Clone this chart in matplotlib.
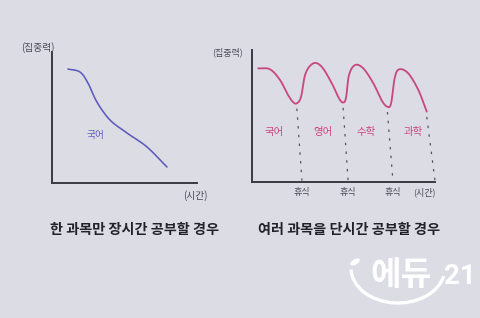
import numpy as np
import matplotlib
matplotlib.use("Agg")
import matplotlib.pyplot as plt
from matplotlib.patches import Arc, Ellipse

plt.rcParams['font.family'] = ['Noto Sans CJK KR', 'DejaVu Sans']

# ---- data ----
left_x = [1.10, 1.93, 2.48, 3.10, 4.00, 5.17, 6.55, 7.93]
left_y = [8.70, 8.47, 7.63, 6.18, 4.81, 3.82, 2.75, 1.22]
left_label = "국어"

right_x = [0.34, 0.98, 1.53, 1.97, 2.25, 2.45, 2.68, 2.92, 3.35, 3.81, 4.36, 4.75, 4.98, 5.14,
           5.30, 5.63, 6.08, 6.63, 7.10, 7.40, 7.60, 7.80, 8.05, 8.54, 9.09, 9.55]
right_y = [8.61, 8.54, 7.73, 6.59, 6.05, 5.96, 6.45, 8.20, 8.99, 8.73, 7.48, 6.35, 6.02, 6.40,
           8.10, 8.86, 8.61, 7.48, 6.15, 5.70, 5.95, 7.90, 8.54, 8.23, 6.97, 5.33]
subjects = ["국어", "영어", "수학", "과학"]
subject_x = [1.2, 3.85, 6.25, 8.8]
dash_top_x = [2.45, 4.98, 7.40, 9.55]
dash_top_y = [5.96, 6.02, 5.70, 5.33]
dash_bot_x = [2.73, 5.25, 7.70, 10.0]
break_ticks = [2.73, 5.25, 7.70]
break_label = "휴식"
y_label = "(집중력)"
x_label = "(시간)"
captions = ["한 과목만 장시간 공부할 경우", "여러 과목을 단시간 공부할 경우"]


def smooth(xs, ys, n=12):
    xs = np.asarray(xs, float); ys = np.asarray(ys, float)
    px = np.concatenate([[2*xs[0]-xs[1]], xs, [2*xs[-1]-xs[-2]]])
    py = np.concatenate([[2*ys[0]-ys[1]], ys, [2*ys[-1]-ys[-2]]])
    ox, oy = [], []
    t = np.linspace(0, 1, n, endpoint=False)
    for i in range(1, len(px)-2):
        for arr, out in ((px, ox), (py, oy)):
            p0, p1, p2, p3 = arr[i-1], arr[i], arr[i+1], arr[i+2]
            out.extend(0.5*((2*p1) + (-p0+p2)*t + (2*p0-5*p1+4*p2-p3)*t**2 + (-p0+3*p1-3*p2+p3)*t**3))
    ox.append(xs[-1]); oy.append(ys[-1])
    return np.array(ox), np.array(oy)


W, H = 480, 318
bg = '#dcdce5'
fig = plt.figure(figsize=(W/100, H/100), dpi=100, facecolor=bg)

def px_axes(x0, y_bottom, x1, y_top):
    return fig.add_axes([x0/W, (H-y_bottom)/H, (x1-x0)/W, (y_bottom-y_top)/H])

axis_col = '#3a3a40'
text_col = '#4a4a55'

def style(ax):
    ax.set_facecolor('none')
    ax.set_xlim(0, 10); ax.set_ylim(0, 10)
    for s in ['top', 'right']:
        ax.spines[s].set_visible(False)
    for s in ['left', 'bottom']:
        ax.spines[s].set_color(axis_col)
        ax.spines[s].set_linewidth(1.4)
    ax.set_xticks([]); ax.set_yticks([])

# left chart
axL = px_axes(52, 183, 197, 52)
style(axL)
sx, sy = smooth(left_x, left_y)
axL.plot(sx, sy, color='#5e5abb', lw=1.15, solid_capstyle='round')
axL.text(3.0, 3.7, left_label, color='#625ec4', fontsize=7, ha='center', va='center')
axL.text(-0.95, 10.35, y_label, fontsize=7, color=text_col,
         ha='center', va='center', clip_on=False)
axL.text(9.9, -0.95, x_label, fontsize=7, color=text_col, ha='center', va='center', clip_on=False)

# right chart
axR = px_axes(252, 182, 435, 50)
style(axR)
sx, sy = smooth(right_x, right_y)
axR.plot(sx, sy, color='#c8477c', lw=1.3, solid_capstyle='round')
for tx, ty, bx in zip(dash_top_x, dash_top_y, dash_bot_x):
    axR.plot([tx, bx], [ty - 0.4, 0.1], ls=(0, (2, 5)), color='#555560', lw=0.9, clip_on=False)
for sxl, name in zip(subject_x, subjects):
    axR.text(sxl, 3.8, name, color='#cf4580', fontsize=7.5, ha='center', va='center')
for bx in break_ticks:
    axR.text(bx, -0.8, break_label, fontsize=6.5, color=text_col, ha='center', va='center', clip_on=False)
axR.text(9.4, -0.8, x_label, fontsize=6.5, color=text_col, ha='center', va='center', clip_on=False)
axR.text(-1.35, 9.8, y_label, fontsize=6.5, color=text_col, ha='center', va='center', clip_on=False)

# captions
fig.text(134/W, (H-230)/H, captions[0], fontsize=10.2, fontweight='bold', color='#222228',
         ha='center', va='center')
fig.text(349/W, (H-230)/H, captions[1], fontsize=10.2, fontweight='bold', color='#222228',
         ha='center', va='center')

# watermark
fig.text(401/W, (H-276)/H, "에듀", fontsize=24, fontweight='bold', color='white',
         ha='center', va='center')
fig.text(460/W, (H-277)/H, "21", fontsize=20, fontweight='bold', color='white',
         ha='center', va='center', family='Roboto')
wax = fig.add_axes([0, 0, 1, 1], facecolor='none')
wax.set_xlim(0, W); wax.set_ylim(H, 0); wax.axis('off')
wax.add_patch(Arc((398, 268), 94, 70, theta1=10, theta2=178, color='white', lw=2.4))
wax.add_patch(Ellipse((355, 262), 9, 4, angle=-30, color='white'))

fig.savefig('out.png', dpi=100, facecolor=bg)
